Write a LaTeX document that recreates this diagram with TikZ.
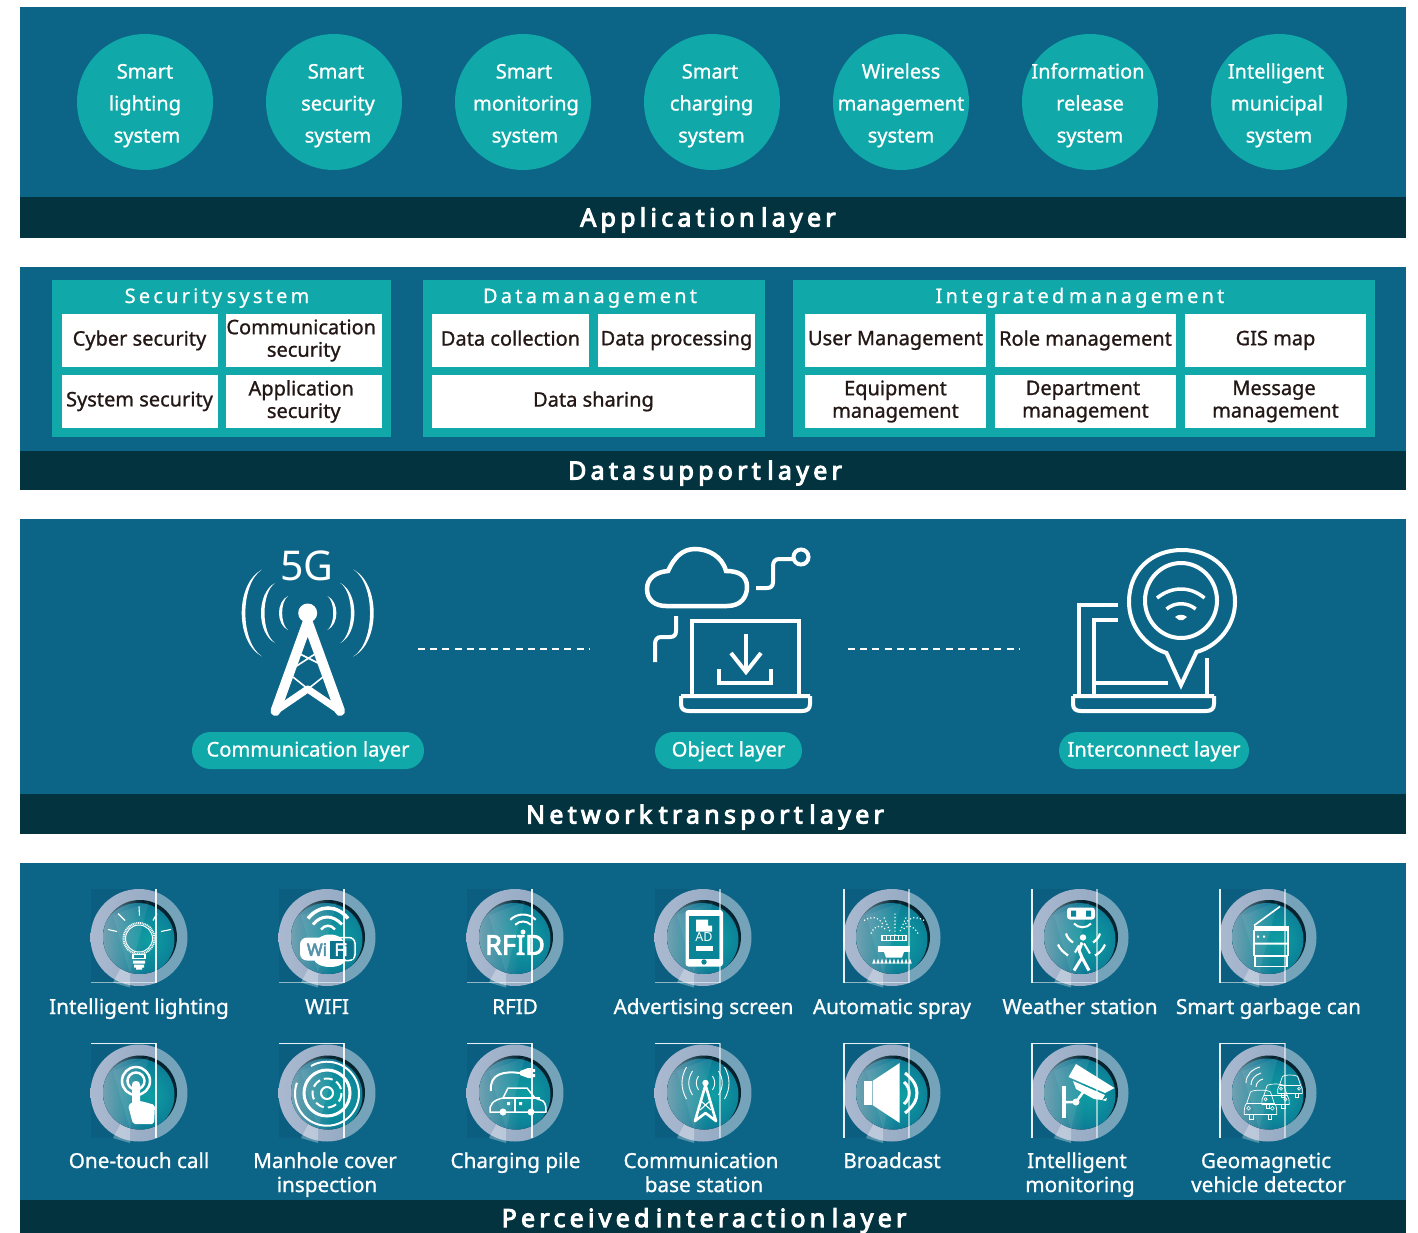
\documentclass[tikz,border=0pt]{standalone}
\usepackage{fontspec}
\usetikzlibrary{fadings}
\setmainfont{Noto Sans}[FakeBold=1]
\newfontfamily\plainf{Noto Sans}
\newfontfamily\boldf{Noto Sans}[FakeBold=3.5]
\newfontfamily\titlef{Noto Sans}[LetterSpace=17,WordSpace=0.6,FakeBold=4]
\newfontfamily\paneltf{Noto Sans}[LetterSpace=16,WordSpace=0.55,FakeBold=0.8]
\definecolor{bandblue}{HTML}{0C6587}
\definecolor{bardark}{HTML}{02333F}
\definecolor{tealc}{HTML}{10A8A8}
\definecolor{inkc}{HTML}{231815}
\definecolor{imgbg}{HTML}{0B5E80}
\definecolor{ringa}{HTML}{AAB9D0}
\definecolor{ringb}{HTML}{8CA4BE}
\definecolor{ringr}{HTML}{74A3BA}
\definecolor{dsL}{HTML}{8FB0BC}
\definecolor{dsM}{HTML}{0A96A0}
\definecolor{scr}{HTML}{0A8598}
\pgfdeclareradialshading{discshade}{\pgfpoint{8bp}{0bp}}{%
  color(0bp)=(rgb,255:red,14;green,158;blue,162);
  color(20bp)=(rgb,255:red,12;green,130;blue,152);
  color(38bp)=(rgb,255:red,10;green,90;blue,138);
  color(50bp)=(rgb,255:red,10;green,85;blue,133)}
\tikzset{
  x=1pt,y=-1pt,
  band/.style={fill=bandblue},
  bar/.style={fill=bardark},
  circnode/.style={circle,fill=tealc,minimum size=136pt,inner sep=0pt},
  bigt/.style={white,font=\fontsize{20}{23}\selectfont,text height=19pt,text depth=4pt,inner sep=0pt,align=center},
  layert/.style={white,font=\titlef\fontsize{25}{28}\selectfont,text height=23pt,text depth=4pt,inner sep=0pt},
  panelt/.style={white,font=\paneltf\fontsize{20}{24}\selectfont,text height=19pt,text depth=5pt,inner sep=0pt},
  celltext/.style={inkc,font=\fontsize{20}{22.5}\selectfont,align=center,inner sep=0pt},
  label/.style={white,font=\fontsize{20.7}{24}\selectfont,text height=19pt,text depth=5pt,inner sep=0pt,align=center},
  pilltext/.style={white,font=\fontsize{20.2}{24}\selectfont,text height=17pt,text depth=5pt,inner sep=0pt,align=center},
  ico/.style={draw=white,line width=#1,fill=none,line cap=butt,line join=miter},
  ico/.default=4.5,
  thinl/.style={white,line width=1.1,opacity=.55},
  brightl/.style={white,line width=1.5,opacity=.9},
}
\newcommand{\mycell}[6]{%
  \fill[white] (#2,#3) rectangle (#4,#5);
  \node[celltext] (#1) at ({(#2+#4)/2},{(#3+#5)/2}) {#6};}
\newcommand{\mypill}[6]{%
  \fill[tealc,rounded corners=18.4pt] (#2,#3) rectangle (#4,#5);
  \node[pilltext] (#1) at ({(#2+#4)/2},{(#3+#5)/2}) {#6};}
% medallion centred on the current scope origin
\newcommand{\medal}{%
  \fill[imgbg] (-48,-48.5) rectangle (17,45);
  \begin{scope}
    \clip (-60,-60) rectangle (17,60);
    \shade[left color=ringa,right color=ringb] (0,0) circle (48.5);
    \fill[white,opacity=.3] (-26,45) -- (-9,50) -- (-9,35) -- (-18,30) -- cycle;
  \end{scope}
  \begin{scope}
    \clip (17,-60) rectangle (60,60);
    \fill[ringr] (0,0) circle (48.5);
  \end{scope}
  \fill[black!65!bandblue] (1,-.5) circle (37);
  \begin{scope}
    \clip (1,-.5) circle (37);
    \shade[shading=discshade] (-1,2) circle (36.5);
    \fill[dsL,path fading=east,opacity=.8] (-37,-37) rectangle (4,38);
  \end{scope}
  \fill[white,opacity=.07] (-9,36) -- (10,-36) -- (-26,-22) -- cycle;
}
\newcommand{\warc}[3]{\draw[white,line width=#3] (#1) ++(-135:#2) arc (-135:-45:#2);}
% crescent: x of apex, x of ends, half height, thickness fraction
\newcommand{\cres}[4]{%
  \fill[white] (#2,-#3) .. controls ({#1-0.333*(#2-#1)},{-0.667*#3}) and ({#1-0.333*(#2-#1)},{0.667*#3}) .. (#2,#3)
   .. controls ({#1+#4*(#2-#1)-0.333*(1-#4)*(#2-#1)},{0.667*#3}) and ({#1+#4*(#2-#1)-0.333*(1-#4)*(#2-#1)},{-0.667*#3}) .. (#2,-#3) -- cycle;}
\newcommand{\smallcar}[2]{%
  \begin{scope}[shift={(#1)},scale=#2]
  \draw[white,line width=.7,fill=none] (-11,1) -- (-8,-8) .. controls (-6,-10) and (6,-10) .. (8,-8) -- (11,1) .. controls (13,3) and (13,6) .. (13,10) -- (-13,10) .. controls (-13,6) and (-13,3) .. (-11,1) -- cycle;
  \draw[white,line width=.7] (-11,1) -- (11,1) (-9,10) -- (-9,14) -- (-6,14) -- (-6,10) (9,10) -- (9,14) -- (6,14) -- (6,10);
  \draw[white,line width=.6] (-9.5,5) circle (1.5) (9.5,5) circle (1.5);
  \end{scope}}
\begin{document}
\begin{tikzpicture}
\useasboundingbox (0,0) rectangle (1418,1233);
\fill[white] (0,0) rectangle (1418,1233);
% Application layer
\fill[band] (19.5,7) rectangle (1406,197);
\fill[bar] (19.5,197) rectangle (1406,238);
\node[circnode] (c1) at (145,102) {};
\node[circnode] (c2) at (334,102) {};
\node[circnode] (c3) at (523,102) {};
\node[circnode] (c4) at (712,102) {};
\node[circnode] (c5) at (901,102) {};
\node[circnode] (c6) at (1090,102) {};
\node[circnode] (c7) at (1279,102) {};
\node[bigt] (t11) at (145,71) {Smart};
\node[bigt] (t12) at (145,103) {lighting};
\node[bigt] (t13) at (147,135) {system};
\node[bigt] (t21) at (336,71) {Smart};
\node[bigt] (t22) at (338,103) {security};
\node[bigt] (t23) at (338,135) {system};
\node[bigt] (t31) at (524,71) {Smart};
\node[bigt] (t32) at (526,103) {monitoring};
\node[bigt] (t33) at (525,135) {system};
\node[bigt] (t41) at (710,71) {Smart};
\node[bigt] (t42) at (711.5,103) {charging};
\node[bigt] (t43) at (711.5,135) {system};
\node[bigt] (t51) at (901,71) {Wireless};
\node[bigt] (t52) at (901,103) {management};
\node[bigt] (t53) at (901,135) {system};
\node[bigt] (t61) at (1088,71) {Information};
\node[bigt] (t62) at (1090,103) {release};
\node[bigt] (t63) at (1090,135) {system};
\node[bigt] (t71) at (1276,71) {Intelligent};
\node[bigt] (t72) at (1277,103) {municipal};
\node[bigt] (t73) at (1279,135) {system};
\node[layert] (l1) at (708,217) {Application layer};
% Data support layer
\fill[band] (19.5,267) rectangle (1406,451);
\fill[bar] (19.5,451) rectangle (1406,490);
\fill[tealc] (51.5,280) rectangle (390.5,437);
\fill[tealc] (423,280) rectangle (765,437);
\fill[tealc] (793,280) rectangle (1375,437);
\node[panelt] (p1) at (217,296) {Security system};
\node[panelt] (p2) at (590,296) {Data management};
\node[panelt] (p3) at (1080,296) {Integrated management};
\mycell{a1}{61.5}{314}{217.5}{367}{Cyber security\rule[-5pt]{0pt}{15pt}}
\mycell{a2}{226}{314}{381.5}{367}{\hspace*{-5pt}Communication\\security}
\mycell{a3}{61.5}{375}{217.5}{428}{System security\rule[-5pt]{0pt}{15pt}}
\mycell{a4}{226}{375}{381.5}{428}{\hspace*{-5pt}Application\\security}
\mycell{b1}{432}{314}{589}{367}{Data collection\rule[-5pt]{0pt}{15pt}}
\mycell{b2}{598}{314}{755}{367}{Data processing\rule[-5pt]{0pt}{15pt}}
\mycell{b3}{432}{375}{755}{428}{Data sharing\rule[-5pt]{0pt}{15pt}}
\mycell{d1}{805}{314}{986}{367}{User Management\rule[-5pt]{0pt}{15pt}}
\mycell{d2}{995}{314}{1176}{367}{Role management\rule[-5pt]{0pt}{15pt}}
\mycell{d3}{1185}{314}{1366}{367}{GIS map\rule[-5pt]{0pt}{15pt}}
\mycell{d4}{805}{375}{986}{428}{Equipment\\management}
\mycell{d5}{995}{375}{1176}{428}{\hspace*{-5pt}Department\\management}
\mycell{d6}{1185}{375}{1366}{428}{\hspace*{-3pt}Message\\management}
\node[layert] (l2) at (705,470) {Data support layer};
% Network transport layer
\fill[band] (19.5,519) rectangle (1406,794);
\fill[bar] (19.5,794) rectangle (1406,834);
\node[white,inner sep=0pt,font=\plainf\fontsize{41}{44}\selectfont] (fiveg) at (307,566) {5G};
% tower
\begin{scope}[shift={(307.7,613)}]
  \cres{-28.7}{-19.7}{17}{0.35}\cres{28.7}{19.7}{17}{0.35}
  \cres{-46.7}{-32.7}{30}{0.25}\cres{46.7}{32.7}{30}{0.25}
  \cres{-66}{-45.7}{43.5}{0.18}\cres{66}{45.7}{43.5}{0.18}
\end{scope}
\fill[white] (307.7,613) circle (9.5);
\draw[white,line width=10,line cap=round,line join=round] (275.5,711) -- (307.7,622) -- (340,711);
\draw[white,line width=7,line cap=round,line join=round] (275.5,711) -- (307.7,689) -- (340,711);
\draw[white,line width=1.6] (300,654) -- (318,663) (315,654) -- (295,667) (293,677) -- (308,689) (323,677) -- (308,689);
\mypill{pl1}{192}{732}{424}{769}{Communication layer}
\coordinate (da1) at (418,649); \coordinate (da2) at (590,649);
\coordinate (db1) at (848,649); \coordinate (db2) at (1020,649);
\draw[white,line width=2,dash pattern=on 7pt off 5.2pt] (da1) -- (da2);
\draw[white,line width=2,dash pattern=on 7pt off 5.2pt] (db1) -- (db2);
% object layer icon
\draw[ico] (666,606) -- (727,606) .. controls (741,606) and (747,597) .. (747,587) .. controls (747,575) and (738,571) .. (726,571) .. controls (722,556) and (708,549) .. (695,549) .. controls (682,549) and (674,558) .. (668,571) .. controls (655,572) and (647,579) .. (647,589) .. controls (647,600) and (655,606) .. (666,606) -- cycle;
\draw[ico=4] (756,588) -- (767,588) .. controls (771,588) and (773,586) .. (773,582) -- (773,566) .. controls (773,562) and (775,559) .. (779,559) -- (793,559);
\draw[ico=4] (801,557) circle (7.5);
\draw[ico=4] (676,616) -- (676,631) .. controls (676,635) and (674,637) .. (670,637) -- (661,637) .. controls (657,637) and (655,640) .. (655,644) -- (655,662);
\draw[ico=4] (692,695) -- (692,621) -- (799,621) -- (799,695);
\draw[ico=4] (681,696) -- (810,696) (681,696) -- (681,704) .. controls (681,709) and (684,711) .. (689,711) -- (802,711) .. controls (807,711) and (810,709) .. (810,704) -- (810,696);
\draw[ico=4] (746,634) -- (746,670);
\draw[ico=4] (731,653) -- (746,672) -- (761,653);
\draw[ico=4] (719,669) -- (719,683) -- (771,683) -- (771,669);
\mypill{pl2}{655}{732}{802}{769}{Object layer}
% interconnect icon
\draw[ico=4] (1166.5,653) .. controls (1145,646) and (1129,626) .. (1129,602) .. controls (1129,570) and (1152,550) .. (1182,550) .. controls (1212,550) and (1235,570) .. (1235,602) .. controls (1235,626) and (1218,646) .. (1196.5,652) -- (1181,685) -- cycle;
\draw[ico=4] (1181,600.5) ellipse (36 and 37.5);
\draw[white,line width=3.5] (1157,598) .. controls (1172,586) and (1190,586) .. (1204.5,598);
\draw[white,line width=3.5] (1166.5,609) .. controls (1175,602) and (1187,602) .. (1195.7,609);
\fill[white] (1175,617) .. controls (1178,614) and (1184,614) .. (1187,617) -- (1183,620) -- (1179,620) -- cycle;
\draw[ico=4] (1118,605) -- (1079,605) -- (1079,695);
\draw[ico=4] (1118,620) -- (1094,620) -- (1094,695);
\draw[ico=4] (1094,682.5) -- (1167.5,682.5);
\draw[ico=4] (1206.5,658) -- (1206.5,695);
\draw[ico=4] (1073,696) -- (1214,696) (1073,696) -- (1073,704) .. controls (1073,709) and (1076,711) .. (1081,711) -- (1206,711) .. controls (1211,711) and (1214,709) .. (1214,704) -- (1214,696);
\mypill{pl3}{1059}{732}{1249}{769}{Interconnect layer}
\node[layert] (l3) at (705,814) {Network transport layer};
% Perceived interaction layer
\fill[band] (19.5,863) rectangle (1406,1200);
\fill[bar] (19.5,1200) rectangle (1406,1233);
% row 1
\begin{scope}[shift={(139,937.5)}]
  \medal
  \draw[white,line width=2,dash pattern=on 1pt off .8pt] (0,1) circle (15.5);
  \draw[white,line width=1] (0,1) circle (13.5);
  \draw[white,line width=1.1] (-31,-8) -- (-22,-6) (-21,-24) -- (-14,-17) (0,-31) -- (.5,-22) (14,-17) -- (18,-24) (22,-6) -- (32,-8);
  \draw[white,line width=1.2] (-6,17) rectangle (6,21);
  \fill[white] (-6,23) rectangle (6,26) (-5,27) rectangle (5,30) (-3,30) rectangle (3,32);
  \draw[brightl] (17,-48.5) -- (17,45);
  \draw[thinl] (-48,45) -- (17,45);
\end{scope}
\begin{scope}[shift={(327,937.5)}]
  \medal
  \draw[white,line width=3.5] (-19,-19) .. controls (-8,-33) and (10,-33) .. (21,-19);
  \draw[white,line width=3] (-14,-13) .. controls (-6,-23) and (6,-23) .. (15,-13);
  \draw[white,line width=2.5] (-6,-8) .. controls (-2,-13) and (4,-13) .. (8,-8);
  \fill[white] (3,8) ellipse (15 and 11) (3,21) ellipse (16 and 8.5);
  \fill[white,rounded corners=7pt] (-27,0) rectangle (3,23);
  \draw[white,line width=1.5,rounded corners=6pt,fill=none] (-2,0) rectangle (28,23);
  \fill[imgbg!60!dsM] (3,3) -- (3,21) -- (26,21) -- (26,3) -- cycle;
  \node[font=\boldf\fontsize{17}{17}\selectfont,text=bandblue!70!white,inner sep=0pt] (wi) at (-10,12) {Wi};
  \node[font=\boldf\fontsize{17}{17}\selectfont,white,inner sep=0pt] (fi) at (14,12) {Fi};
  \draw[brightl] (17,-48.5) -- (17,45);
  \draw[thinl] (-48,45) -- (17,45);
\end{scope}
\begin{scope}[shift={(515,937.5)}]
  \medal
  \warc{8,-5}{18}{2}\warc{8,-5}{11}{2}
  \fill[white] (8,-5.5) circle (2.5);
  \node[font=\boldf\fontsize{27}{27}\selectfont,white,inner sep=0pt] (rfid) at (0,7.5) {RFID};
  \draw[brightl] (17,-48.5) -- (17,45);
  \draw[thinl] (-48,45) -- (17,45);
\end{scope}
\begin{scope}[shift={(703,937.5)}]
  \medal
  \fill[white,rounded corners=3pt] (-17.5,-27.5) rectangle (20,29);
  \fill[scr] (-14,-22) rectangle (16.5,21);
  \fill[white] (-7,-18) -- (5,-18) -- (5,-12) -- (9,-12) -- (9,-6) -- (-7,-6) -- cycle;
  \node[font=\plainf\fontsize{12.5}{13}\selectfont,white,inner sep=0pt] (ad) at (1,0) {AD};
  \fill[white] (-7,8) rectangle (10,13);
  \fill[scr] (1,24.5) circle (2.7);
  \draw[thinl] (17,-48.5) -- (17,45);
  \draw[thinl] (-48,45) -- (17,45);
\end{scope}
\begin{scope}[shift={(892,937.5)}]
  \medal
  \draw[white,line width=1.2,dash pattern=on 1.2pt off 2.2pt] (-28,-17) .. controls (-22,-21) and (-14,-22) .. (-9,-13) (-21,-4) .. controls (-18,-12) and (-10,-14) .. (-6,-7) (3,-24) -- (3,-3) (32,-17) .. controls (26,-21) and (18,-22) .. (13,-13) (26,-4) .. controls (22,-12) and (14,-14) .. (11,-7) (-8,-20) -- (-2,-6) (14,-20) -- (8,-6);
  \draw[white,line width=1.3] (-10,-2) rectangle (14,3);
  \draw[white,line width=.8] (-6,-2) -- (-6,3) (-2,-2) -- (-2,3) (2,-2) -- (2,3) (6,-2) -- (6,3) (10,-2) -- (10,3);
  \fill[white] (-14,8) rectangle (18,14.5);
  \fill[white] (-8,14.5) -- (12,14.5) -- (10,20) -- (-6,20) -- cycle;
  \foreach \i in {-18,-14,-10,-6,-2,2,6,10,14,18} {\fill[white] (\i,21) -- ({\i+1.7},26) -- ({\i-1.7},26) -- cycle;}
  \draw[thinl] (17,-48.5) -- (17,45);
  \draw[brightl] (-48,-48.5) -- (-48,45);
  \draw[thinl] (-48,45) -- (17,45);
\end{scope}
\begin{scope}[shift={(1080,937.5)}]
  \medal
  \fill[white,rounded corners=3pt] (-13,-30) rectangle (15,-18);
  \fill[scr] (-9,-27) rectangle (-4,-21) (6,-27) rectangle (11,-21);
  \draw[white,line width=2] (-6,-14) .. controls (-2,-9) and (7,-9) .. (11,-14);
  \fill[white] (3,0) circle (3.2);
  \draw[white,line width=3,line join=round] (2,5) -- (-1,13) -- (2,20) -- (-6,33);
  \draw[white,line width=3,line join=round] (2,20) -- (9,33);
  \draw[white,line width=2] (-1,8) -- (-5,15) (4,6) -- (10,16);
  \draw[white,line width=2.2] (-14,-4) .. controls (-13,0) and (-10,3) .. (-7,5) (-22,7) .. controls (-20,12) and (-16,15) .. (-12,18) (20,-4) .. controls (19,0) and (16,3) .. (13,5) (25,7) .. controls (23,12) and (19,16) .. (15,18);
  \draw[thinl] (17,-48.5) -- (17,45);
  \draw[brightl] (-48,-48.5) -- (-48,45);
  \draw[thinl] (-48,45) -- (17,45);
\end{scope}
\begin{scope}[shift={(1268,937.5)}]
  \medal
  \draw[white,line width=1.6] (12,-31) -- (-14,-12);
  \fill[white] (-14,-12) rectangle (21,-7);
  \draw[white,line width=1.6] (-14,-7) rectangle (20,18);
  \fill[white] (-14,5) rectangle (20,7) (-11,-2) rectangle (-9,0) (-5,-2) rectangle (-3,0);
  \draw[white,line width=1.6] (-13,19) rectangle (19,29);
  \draw[thinl] (17,-48.5) -- (17,45);
  \draw[brightl] (-48,-48.5) -- (-48,45);
  \draw[thinl] (-48,45) -- (17,45);
\end{scope}
\node[label] (n1) at (139,1007) {Intelligent lighting};
\node[label] (n2) at (327,1007) {WIFI};
\node[label] (n3) at (515,1007) {RFID};
\node[label] (n4) at (703.5,1007) {Advertising screen};
\node[label] (n5) at (892,1007) {Automatic spray};
\node[label] (n6) at (1080,1007) {Weather station};
\node[label] (n7) at (1268.5,1007) {Smart garbage can};
% row 2
\begin{scope}[shift={(139,1093)}]
  \medal
  \draw[white,line width=2.5] (-3,-12) circle (14) (-3,-12) circle (8.5);
  \fill[white,rounded corners=3.5pt] (-7,-12) rectangle (1,16);
  \fill[white,rounded corners=2pt] (-11,12) -- (-4,8) -- (2,8) -- (16,12) -- (15,31) -- (-6,31) -- cycle;
  \draw[brightl] (17,-50) -- (17,45);
  \draw[brightl] (-48,-49.5) -- (17,-49.5);
\end{scope}
\begin{scope}[shift={(327,1093)}]
  \medal
  \draw[white,line width=2] (-16,-27) arc (-120:200:32);
  \draw[white,line width=3] (0,0) circle (23);
  \draw[white,line width=2,dash pattern=on 9pt off 4pt] (0,0) circle (14.5);
  \draw[white,line width=2] (0,0) circle (6);
  \draw[brightl] (17,-50) -- (17,45);
  \draw[brightl] (-48,-49.5) -- (17,-49.5);
\end{scope}
\begin{scope}[shift={(515,1093)}]
  \medal
  \draw[white,line width=2] (5,-20) .. controls (-10,-22) and (-26,-20) .. (-24,-2);
  \fill[white] (5,-22) -- (13,-25) -- (16,-25) -- (16,-15) -- (13,-15) -- (5,-18) -- cycle;
  \fill[white] (17,-24) rectangle (20,-21) (17,-19) rectangle (20,-16);
  \draw[white,line width=1.5,line join=round] (-12,5) -- (-7,-5) -- (12,-5) -- (20,5) -- (28,8) .. controls (31,11) and (31,14) .. (31,19) -- (-25,19) .. controls (-26,12) and (-22,7) .. (-12,5);
  \draw[white,line width=1.5] (-12,5) -- (25,5) (0,5) -- (0,19);
  \fill[white] (-12,19) circle (3.5) (16,19) circle (3.5) (-8,9) rectangle (-5,12) (4,9) rectangle (7,12);
  \draw[brightl] (17,-50) -- (17,45);
  \draw[brightl] (-48,-49.5) -- (17,-49.5);
\end{scope}
\begin{scope}[shift={(703,1093)}]
  \medal
  \fill[white] (2.5,-10) circle (3.2);
  \draw[white,line width=2.6,line join=round] (-8,28) -- (2.5,-8) -- (13,28) -- (2.5,20) -- cycle;
  \draw[white,line width=1.1] (-2,8) -- (8,17) (7,8) -- (-3,17);
  \begin{scope}[shift={(2.5,-10)}]
    \draw[white,line width=.9] (-7,-7) .. controls (-10,-2) and (-10,2) .. (-7,7) (7,-7) .. controls (10,-2) and (10,2) .. (7,7) (-13,-12) .. controls (-18,-4) and (-18,4) .. (-13,12) (13,-12) .. controls (18,-4) and (18,4) .. (13,12) (-19,-16) .. controls (-25,-6) and (-25,6) .. (-19,16) (19,-16) .. controls (25,-6) and (25,6) .. (19,16);
  \end{scope}
  \draw[thinl] (17,-50) -- (17,45);
  \draw[brightl] (-48,-49.5) -- (17,-49.5);
\end{scope}
\begin{scope}[shift={(892,1093)}]
  \medal
  \fill[white] (-28,-12) rectangle (-20,12);
  \fill[white] (-19.5,-12) -- (7.7,-30) -- (7.7,30) -- (-19.5,12) -- cycle;
  \draw[white,line width=3] (12,-11) .. controls (19,-5) and (19,5) .. (12,11);
  \draw[white,line width=3] (13,-20) .. controls (29,-8) and (29,8) .. (13,20);
  \draw[thinl] (17,-50) -- (17,45);
  \draw[brightl] (-48,-50) -- (-48,45);
  \draw[brightl] (-48,-49.5) -- (17,-49.5);
\end{scope}
\begin{scope}[shift={(1080,1093)}]
  \medal
  \fill[white] (-18.5,-7) rectangle (-14,25);
  \fill[white] (-4,-29) -- (34.5,-5) -- (25,0) -- (-11.5,-16) -- cycle;
  \fill[white] (-7,-12) -- (25,2) -- (22,7) -- (14,6) -- (-4,-4) -- cycle;
  \fill[white] (22,7) -- (27,5) -- (26,8) -- cycle;
  \draw[white,line width=2.5] (-15,9) -- (-4,9) -- (4,-2);
  \fill[white] (-4,9) circle (3.5);
  \draw[thinl] (17,-50) -- (17,45);
  \draw[brightl] (-48,-50) -- (-48,45);
  \draw[brightl] (-48,-49.5) -- (17,-49.5);
\end{scope}
\begin{scope}[shift={(1268,1093)}]
  \medal
  \smallcar{22,-9}{.95}
  \smallcar{7.5,1}{1.05}
  \smallcar{-7.5,9}{1.25}
  \draw[white,line width=.9] (-22,-10) .. controls (-22,-18) and (-16,-24) .. (-8,-26) (-17,-8) .. controls (-17,-14) and (-13,-18) .. (-7,-20) (-12,-6) .. controls (-12,-10) and (-9,-13) .. (-5,-14);
  \draw[thinl] (17,-50) -- (17,45);
  \draw[brightl] (-48,-50) -- (-48,45);
  \draw[brightl] (-48,-49.5) -- (17,-49.5);
\end{scope}
\node[label] (m1) at (139,1161) {One-touch call};
\node[label] (m2a) at (325,1161) {Manhole cover};
\node[label] (m2b) at (327,1185) {inspection};
\node[label] (m3) at (515.5,1161) {Charging pile};
\node[label] (m4a) at (701,1161) {Communication};
\node[label] (m4b) at (704,1185) {base station};
\node[label] (m5) at (892,1161) {Broadcast};
\node[label] (m6a) at (1077,1161) {Intelligent};
\node[label] (m6b) at (1080,1185) {monitoring};
\node[label] (m7a) at (1266,1161) {Geomagnetic};
\node[label] (m7b) at (1268.5,1185) {vehicle detector};
\node[layert] (l4) at (704,1217.5) {Perceived interaction layer};
\end{tikzpicture}
\end{document}
